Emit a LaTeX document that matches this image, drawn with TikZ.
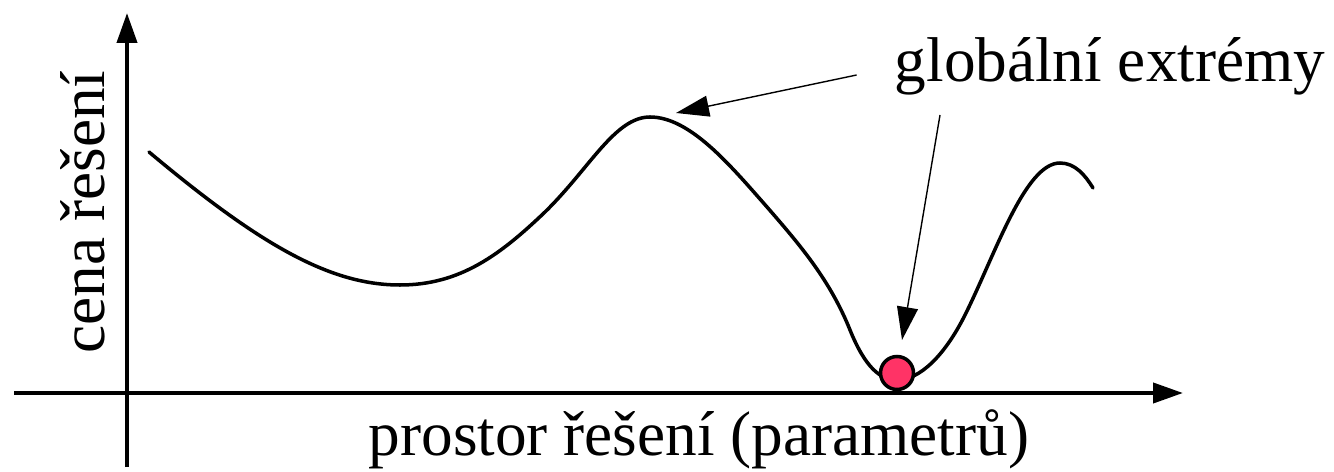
\documentclass[tikz,border=0pt]{standalone}
\usepackage{fontspec}
\setmainfont{Liberation Serif}
\usepackage{xcolor}
\usetikzlibrary{arrows.meta}
\definecolor{ballred}{HTML}{FF3366}

\begin{document}
\begin{tikzpicture}[x=0.02cm,y=-0.02cm,
    font=\fontsize{36}{40}\selectfont,
    axis/.style={line width=2.3pt,-{Triangle[length=0.6cm,width=0.4cm]}},
    pointer/.style={line width=0.8pt,-{Triangle[length=0.66cm,width=0.42cm]}},
    landscape/.style={line width=2pt,line cap=round}]
  \useasboundingbox (0,0) rectangle (1334,472);
  % axes
  \coordinate (xs) at (14,393);
  \coordinate (xe) at (1183,393);
  \coordinate (ys) at (127,467);
  \coordinate (ye) at (127,13);
  \draw[axis] (xs) -- (xe);
  \draw[axis] (ys) -- (ye);
  \node[rotate=90,anchor=base] (ylab) at (104,212) {cena řešení};
  \node[anchor=base] (xlab) at (699,455) {prostor řešení (parametrů)};
  % the cost curve
  \draw[landscape] (149,152) .. controls (260,245) and (330,285) .. (400,285)
    .. controls (460,285) and (500,255) .. (545,212)
    .. controls (590,168) and (615,117) .. (650,117)
    .. controls (690,117) and (730,165) .. (767,207)
    .. controls (800,245) and (830,280) .. (850,330)
    .. controls (865,367) and (880,380) .. (897,380)
    .. controls (920,380) and (945,355) .. (965,315)
    .. controls (995,255) and (1025,163) .. (1060,163)
    .. controls (1075,163) and (1085,175) .. (1093,188);
  \node[circle,draw,line width=2pt,fill=ballred,minimum size=0.66cm,inner sep=0pt] (ball) at (897,373) {};
  % labels with pointers
  \node[anchor=base] (ext) at (1110,82) {globální extrémy};
  \coordinate (peak) at (676,113);
  \coordinate (ptr2) at (902,340);
  \draw[pointer] (ext.west |- 0,75) ++(-32,0) coordinate (p1) -- (peak);
  \draw[pointer] (940,115) coordinate (p2) -- (ptr2);
\end{tikzpicture}
\end{document}
